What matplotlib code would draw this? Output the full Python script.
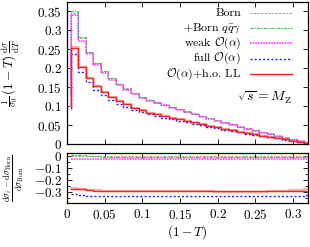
import numpy as np
import matplotlib
matplotlib.use("Agg")
import matplotlib.pyplot as plt
from matplotlib.ticker import MultipleLocator, FuncFormatter

plt.rcParams['font.family'] = 'serif'
plt.rcParams['font.serif'] = ['cmr10']
plt.rcParams['mathtext.fontset'] = 'cm'
plt.rcParams['axes.formatter.use_mathtext'] = True
plt.rcParams['axes.unicode_minus'] = False

# 1. The data: 32 bins of width 0.01 in (1-T), starting at 0.005
bin_edges = np.linspace(0.005, 0.325, 33)

# Born distribution (1/sigma0)(1-T) dsigma/dT per bin
born = np.array([0.347, 0.279, 0.242, 0.214, 0.193, 0.174, 0.159, 0.147,
                 0.135, 0.125, 0.117, 0.110, 0.104, 0.098, 0.092, 0.086,
                 0.080, 0.074, 0.068, 0.063, 0.057, 0.052, 0.046, 0.041,
                 0.036, 0.031, 0.027, 0.022, 0.017, 0.012, 0.007, 0.003])
born_start = 0.135  # value left of the first bin edge

# relative corrections (dsigma_i - dsigma_Born)/dsigma_Born per bin
rel_qqg = np.array([0.010, 0.008, 0.004, 0.000, -0.003, -0.005, -0.006, -0.007,
                    -0.007, -0.007, -0.007, -0.007, -0.007, -0.007, -0.007, -0.007,
                    -0.007, -0.007, -0.007, -0.007, -0.007, -0.007, -0.007, -0.007,
                    -0.007, -0.007, -0.007, -0.007, -0.007, -0.006, -0.006, -0.006])
rel_weak = np.array([-0.020, -0.021, -0.022, -0.022, -0.022, -0.022, -0.022, -0.022,
                     -0.022, -0.022, -0.022, -0.022, -0.022, -0.022, -0.022, -0.022,
                     -0.022, -0.022, -0.022, -0.022, -0.022, -0.022, -0.022, -0.022,
                     -0.022, -0.022, -0.022, -0.022, -0.022, -0.022, -0.022, -0.022])
rel_full = np.array([-0.316, -0.320, -0.326, -0.330, -0.332, -0.333, -0.333, -0.333,
                     -0.333, -0.333, -0.333, -0.333, -0.333, -0.333, -0.333, -0.333,
                     -0.333, -0.333, -0.333, -0.333, -0.333, -0.333, -0.333, -0.333,
                     -0.333, -0.333, -0.333, -0.332, -0.331, -0.329, -0.326, -0.322])
rel_holl = np.array([-0.272, -0.275, -0.280, -0.284, -0.287, -0.289, -0.290, -0.290,
                     -0.290, -0.290, -0.290, -0.290, -0.290, -0.290, -0.290, -0.290,
                     -0.290, -0.290, -0.290, -0.290, -0.290, -0.290, -0.290, -0.290,
                     -0.290, -0.290, -0.290, -0.290, -0.289, -0.288, -0.286, -0.284])
rel_holl_band = np.array([-0.264, -0.268, -0.276, -0.282, -0.286, -0.288, -0.289, -0.289,
                          -0.290, -0.290, -0.290, -0.291, -0.291, -0.291, -0.291, -0.291,
                          -0.292, -0.292, -0.292, -0.293, -0.294, -0.295, -0.296, -0.296,
                          -0.296, -0.294, -0.291, -0.288, -0.285, -0.281, -0.277, -0.274])

series = [
    ('Born', np.zeros(32), dict(color='#a0a0a0', ls=(0, (2, 1.2)), lw=0.8)),
    (r'+Born $q\bar{q}\gamma$', rel_qqg, dict(color='#40c040', ls=(0, (3, 1, 1, 1)), lw=0.8)),
    (r'weak $\mathcal{O}(\alpha)$', rel_weak, dict(color='#ff40ff', ls=(0, (1, 0.6)), lw=1.2)),
    (r'full $\mathcal{O}(\alpha)$', rel_full, dict(color='#2020ff', ls=(0, (1.5, 1.5)), lw=1.0)),
    (r'$\mathcal{O}(\alpha)$+h.o. LL', rel_holl, dict(color='#ff2020', ls='-', lw=1.0)),
]


def steps(ax, start, vals, **kw):
    x = np.r_[bin_edges[0], bin_edges]
    y = np.r_[start, vals, vals[-1]]
    ax.plot(x, y, drawstyle='steps-post', **kw)


# 2. Draw
fig = plt.figure(figsize=(3.1, 2.47), dpi=100)
ax = fig.add_axes([0.216, 0.417, 0.778, 0.575])
axr = fig.add_axes([0.216, 0.177, 0.778, 0.205])

# light band for the h.o. LL curve
steps(ax, born_start * (1 + rel_holl_band[0]), born * (1 + rel_holl_band),
      color='#ffb4b4', lw=1.7)
steps(axr, rel_holl_band[0], rel_holl_band, color='#ffb4b4', lw=1.7)

for name, rel, style in series:
    steps(ax, born_start * (1 + rel[0]), born * (1 + rel), **style)
    steps(axr, rel[0], rel, **style)

# legend drawn by hand: right-aligned text, sample line on the right
for i, (name, rel, style) in enumerate(series):
    yy = 0.923 - i * 0.1075
    ax.text(0.722, yy, name, transform=ax.transAxes, ha='right', va='center', fontsize=8.6)
    ax.plot([0.759, 0.934], [yy, yy], transform=ax.transAxes, **style)

ax.text(0.932, 0.322, r'$\sqrt{s} = M_{\mathrm{Z}}$', transform=ax.transAxes,
        ha='right', va='center', fontsize=10)

fmt = FuncFormatter(lambda v, p: '$%g$' % round(v, 3))

ax.set_xlim(0, 0.32)
ax.set_ylim(0, 0.375)
ax.xaxis.set_major_locator(MultipleLocator(0.05))
ax.yaxis.set_major_locator(MultipleLocator(0.05))
ax.yaxis.set_major_formatter(fmt)
ax.set_xticklabels([])
ax.set_ylabel(r'$\frac{1}{\sigma_0}\,(1-T)\,\frac{\mathrm{d}\sigma}{\mathrm{d}T}$', fontsize=9.5)
ax.yaxis.set_label_coords(-0.185, 0.5)

axr.set_xlim(0, 0.32)
axr.set_ylim(-0.39, 0.03)
axr.xaxis.set_major_locator(MultipleLocator(0.05))
axr.yaxis.set_major_locator(MultipleLocator(0.1))
axr.yaxis.set_minor_locator(MultipleLocator(0.05))
axr.xaxis.set_major_formatter(fmt)
axr.yaxis.set_major_formatter(fmt)
axr.set_xlabel(r'$(1-T)$', fontsize=9.5, labelpad=1)
axr.set_ylabel(r'$\frac{\mathrm{d}\sigma_i - \mathrm{d}\sigma_{\mathrm{Born}}}{\mathrm{d}\sigma_{\mathrm{Born}}}$',
               fontsize=9)
axr.yaxis.set_label_coords(-0.17, 0.5)

for a in (ax, axr):
    a.tick_params(which='both', direction='in', top=True, right=True, labelsize=9.5)
    a.tick_params(which='major', length=3.5, width=0.6)
    a.tick_params(which='minor', length=2, width=0.6)
    for s in a.spines.values():
        s.set_linewidth(0.9)

# 3. Save
plt.savefig('out.png', dpi=100)
